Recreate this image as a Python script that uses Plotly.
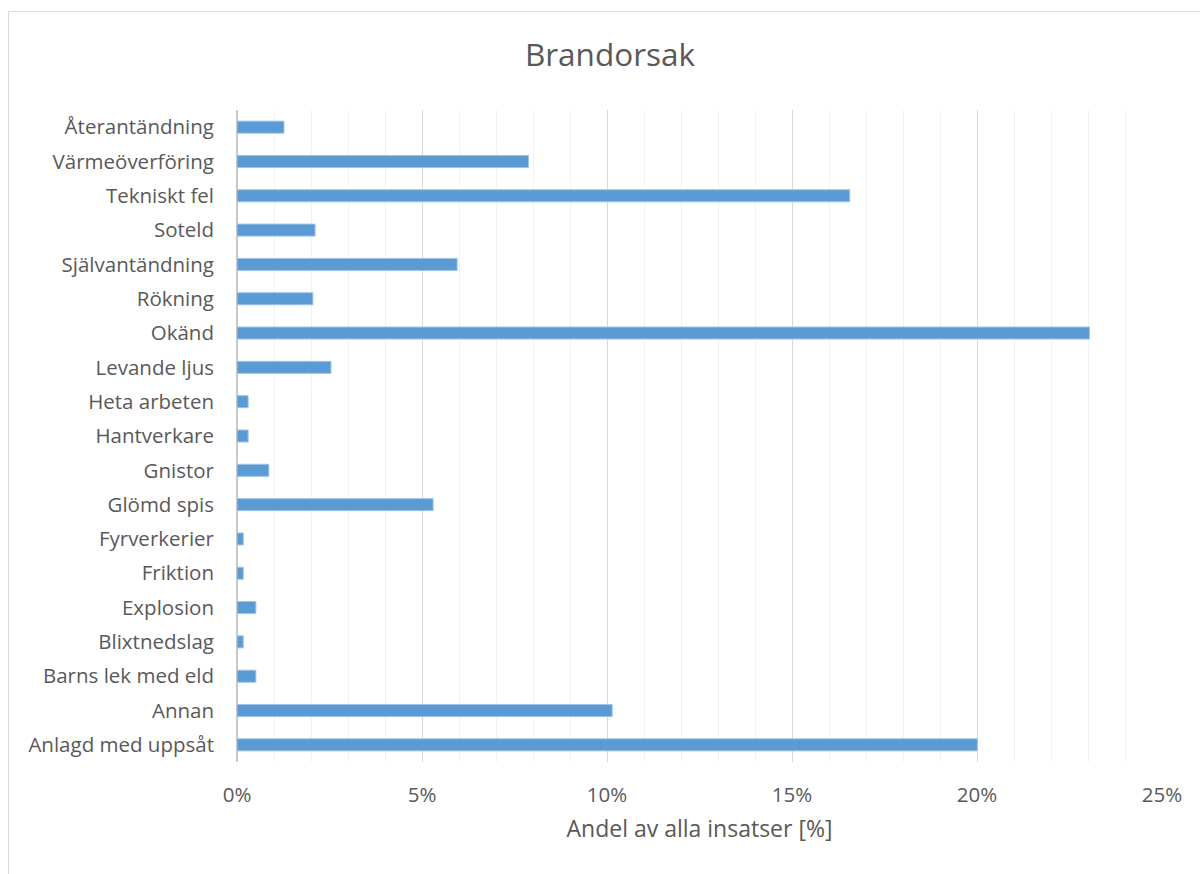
import plotly.graph_objects as go

categories = ["Anlagd med uppsåt", "Annan", "Barns lek med eld", "Blixtnedslag", "Explosion",
              "Friktion", "Fyrverkerier", "Glömd spis", "Gnistor", "Hantverkare", "Heta arbeten",
              "Levande ljus", "Okänd", "Rökning", "Självantändning", "Soteld", "Tekniskt fel",
              "Värmeöverföring", "Återantändning"]
values = [20.01, 10.14, 0.51, 0.17, 0.51, 0.17, 0.17, 5.30, 0.86, 0.30, 0.30,
          2.54, 23.04, 2.05, 5.95, 2.11, 16.56, 7.88, 1.27]
tick_vals = [0, 5, 10, 15, 20, 25]
tick_text = ["0%", "5%", "10%", "15%", "20%", "25%"]

W, H = 1200, 874
L, R, T, B = 237, 38, 110, 112
pw, ph = W - L - R, H - T - B

def px_x(x):
    return (x - L) / pw

def px_y(y):
    return (H - B - y) / ph

fig = go.Figure(go.Bar(
    x=values, y=categories, orientation="h",
    marker=dict(color="#5b9bd5", line=dict(color="#9dc3e6", width=1)),
    hoverinfo="x+y",
))

fig.update_layout(
    width=W, height=H,
    margin=dict(l=L, r=R, t=T, b=B),
    paper_bgcolor="white", plot_bgcolor="white",
    font=dict(family="Open Sans, sans-serif", color="#595959", size=20.5),
    bargap=0.65,
    showlegend=False,
    title=dict(text="Brandorsak", x=(610) / W, xanchor="center",
               y=1 - 55 / H, yanchor="middle",
               font=dict(size=31.5, color="#595959")),
    xaxis=dict(
        range=[0, 25], tickvals=tick_vals, ticktext=tick_text,
        showgrid=True, gridcolor="#d9d9d9", gridwidth=1,
        minor=dict(dtick=1, showgrid=True, gridcolor="#f2f2f2", gridwidth=1),
        zeroline=True, zerolinecolor="#c8c8c8", zerolinewidth=1.5,
        showline=False, ticks="", ticklabelstandoff=18,
        title=dict(text="Andel av alla insatser [%]", standoff=14,
                   font=dict(size=23, color="#595959")),
        fixedrange=True,
    ),
    yaxis=dict(
        type="category", categoryorder="array", categoryarray=categories,
        showgrid=False, zeroline=False, showline=False, ticks="",
        ticklabelstandoff=22, fixedrange=True,
    ),
    shapes=[dict(type="rect", xref="paper", yref="paper",
                 x0=px_x(8.5), x1=px_x(1210), y0=px_y(890), y1=px_y(11.5),
                 line=dict(color="#d9d9d9", width=1), fillcolor="rgba(0,0,0,0)",
                 layer="below")],
)

fig.write_html("out.html")
